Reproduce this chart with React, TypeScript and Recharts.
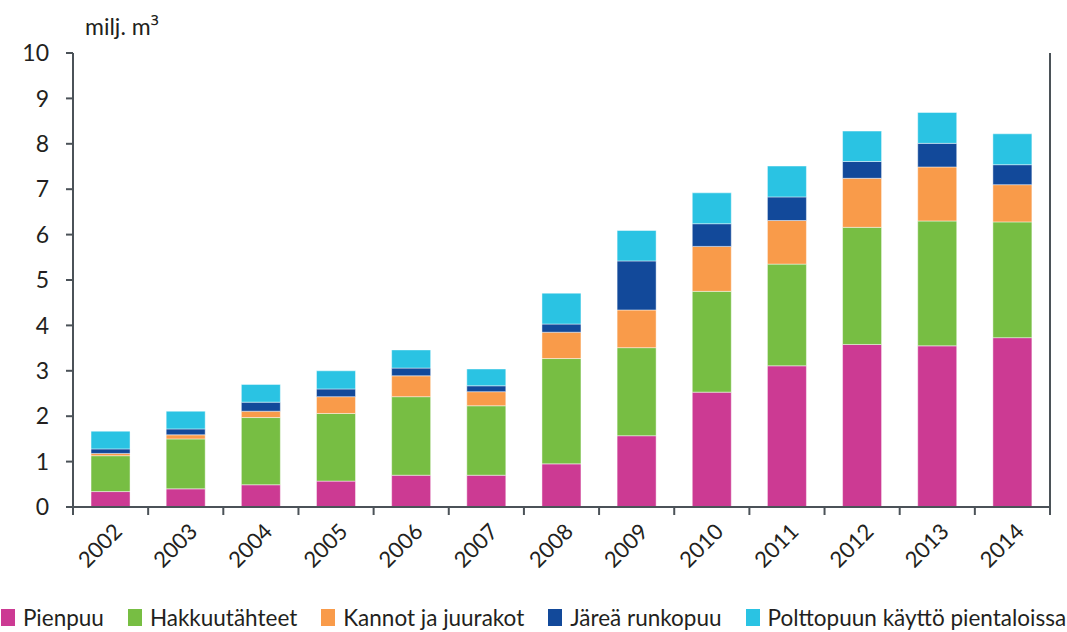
import { BarChart, Bar, XAxis, YAxis, Legend } from 'recharts';

const years = ['2002', '2003', '2004', '2005', '2006', '2007', '2008', '2009', '2010', '2011', '2012', '2013', '2014'];
const pienpuu = [0.34, 0.4, 0.49, 0.57, 0.7, 0.7, 0.95, 1.57, 2.53, 3.11, 3.58, 3.55, 3.73];
const hakkuutahteet = [0.79, 1.1, 1.48, 1.49, 1.73, 1.53, 2.32, 1.94, 2.22, 2.24, 2.58, 2.75, 2.55];
const kannot = [0.05, 0.09, 0.14, 0.37, 0.46, 0.31, 0.58, 0.83, 0.99, 0.96, 1.08, 1.19, 0.82];
const jarea = [0.1, 0.13, 0.2, 0.17, 0.17, 0.13, 0.18, 1.08, 0.5, 0.52, 0.37, 0.52, 0.44];
const polttopuu = [0.39, 0.39, 0.39, 0.4, 0.4, 0.37, 0.68, 0.67, 0.68, 0.68, 0.67, 0.68, 0.68];
const yTicks = [0, 1, 2, 3, 4, 5, 6, 7, 8, 9, 10];

const series = [
  { key: 'pienpuu', name: 'Pienpuu', color: '#cc3a93' },
  { key: 'hakkuutahteet', name: 'Hakkuutähteet', color: '#77be43' },
  { key: 'kannot', name: 'Kannot ja juurakot', color: '#f99b4a' },
  { key: 'jarea', name: 'Järeä runkopuu', color: '#12499a' },
  { key: 'polttopuu', name: 'Polttopuun käyttö pientaloissa', color: '#2ac3e3' },
];

const data = years.map((year, i) => ({
  year,
  pienpuu: pienpuu[i],
  hakkuutahteet: hakkuutahteet[i],
  kannot: kannot[i],
  jarea: jarea[i],
  polttopuu: polttopuu[i],
}));

const W = 1067;
const H = 632;
const LEFT_AXIS_W = 73;
const RIGHT_AXIS_W = 10;
const MARGIN = { top: 53, right: 7, bottom: 0, left: 0 };
const band = (W - MARGIN.left - MARGIN.right - LEFT_AXIS_W - RIGHT_AXIS_W) / years.length;

const FONT = 'Lato, "Open Sans", sans-serif';
const AXIS = '#4b5258';
const TEXT = '#231f20';

// category label rotated -45°, with tick marks on the category boundaries
const YearTick = (props: any) => {
  const { x, y, payload, index } = props;
  const left = x - band / 2;
  return (
    <g>
      <line x1={left} y1={y} x2={left} y2={y + 8} stroke={AXIS} strokeWidth={2} />
      {index === years.length - 1 && (
        <line x1={x + band / 2} y1={y} x2={x + band / 2} y2={y + 8} stroke={AXIS} strokeWidth={2} />
      )}
      <text
        x={x + 13}
        y={y + 26}
        transform={`rotate(-45, ${x + 13}, ${y + 26})`}
        textAnchor="end"
        fontSize={22}
        fontFamily={FONT}
        fill={TEXT}
      >
        {payload.value}
      </text>
    </g>
  );
};

const renderLegend = () => (
  <div style={{ display: 'flex', justifyContent: 'center', gap: 24, fontFamily: FONT, fontSize: 22.5, color: TEXT, whiteSpace: 'nowrap' }}>
    {series.map((s) => (
      <div key={s.key} style={{ display: 'flex', alignItems: 'center', gap: 8 }}>
        <span style={{ display: 'inline-block', width: 14, height: 17, background: s.color }} />
        <span>{s.name}</span>
      </div>
    ))}
  </div>
);

export default function App() {
  return (
    <div style={{ position: 'absolute', left: 0, top: 0, width: W, height: H, background: '#fff', overflow: 'hidden' }}>
      <div
        style={{ position: 'absolute', left: 85, top: 10, fontFamily: FONT, fontSize: 23, color: TEXT, zIndex: 2 }}
      >
        milj. m<span style={{ fontFamily: '"Open Sans", sans-serif' }}>³</span>
      </div>
      <BarChart width={W} height={H} data={data} margin={MARGIN} barCategoryGap="24%">
        <XAxis
          dataKey="year"
          height={125}
          tickLine={false}
          tickSize={0}
          tickMargin={0}
          interval={0}
          axisLine={{ stroke: AXIS, strokeWidth: 2 }}
          tick={<YearTick />}
        />
        <YAxis
          yAxisId="left"
          width={LEFT_AXIS_W}
          domain={[0, 10]}
          ticks={yTicks}
          interval={0}
          tickSize={7}
          tickMargin={17}
          axisLine={{ stroke: AXIS, strokeWidth: 2 }}
          tickLine={{ stroke: AXIS, strokeWidth: 2 }}
          tick={{ fontSize: 23, fontFamily: FONT, fill: TEXT }}
        />
        <YAxis
          yAxisId="right"
          orientation="right"
          width={RIGHT_AXIS_W}
          domain={[0, 10]}
          ticks={yTicks}
          interval={0}
          tickSize={7}
          tickFormatter={() => ''}
          axisLine={{ stroke: AXIS, strokeWidth: 2 }}
          tickLine={{ stroke: AXIS, strokeWidth: 2 }}
        />
        <Legend
          layout="horizontal"
          verticalAlign="middle"
          align="center"
          content={renderLegend}
          wrapperStyle={{ position: 'absolute', left: 0, top: 604, width: W }}
        />
        {series.map((s) => (
          <Bar
            key={s.key}
            yAxisId="left"
            dataKey={s.key}
            name={s.name}
            stackId="total"
            fill={s.color}
            stroke="rgba(255,255,255,0.45)"
            strokeWidth={1}
            isAnimationActive={false}
          />
        ))}
      </BarChart>
    </div>
  );
}
